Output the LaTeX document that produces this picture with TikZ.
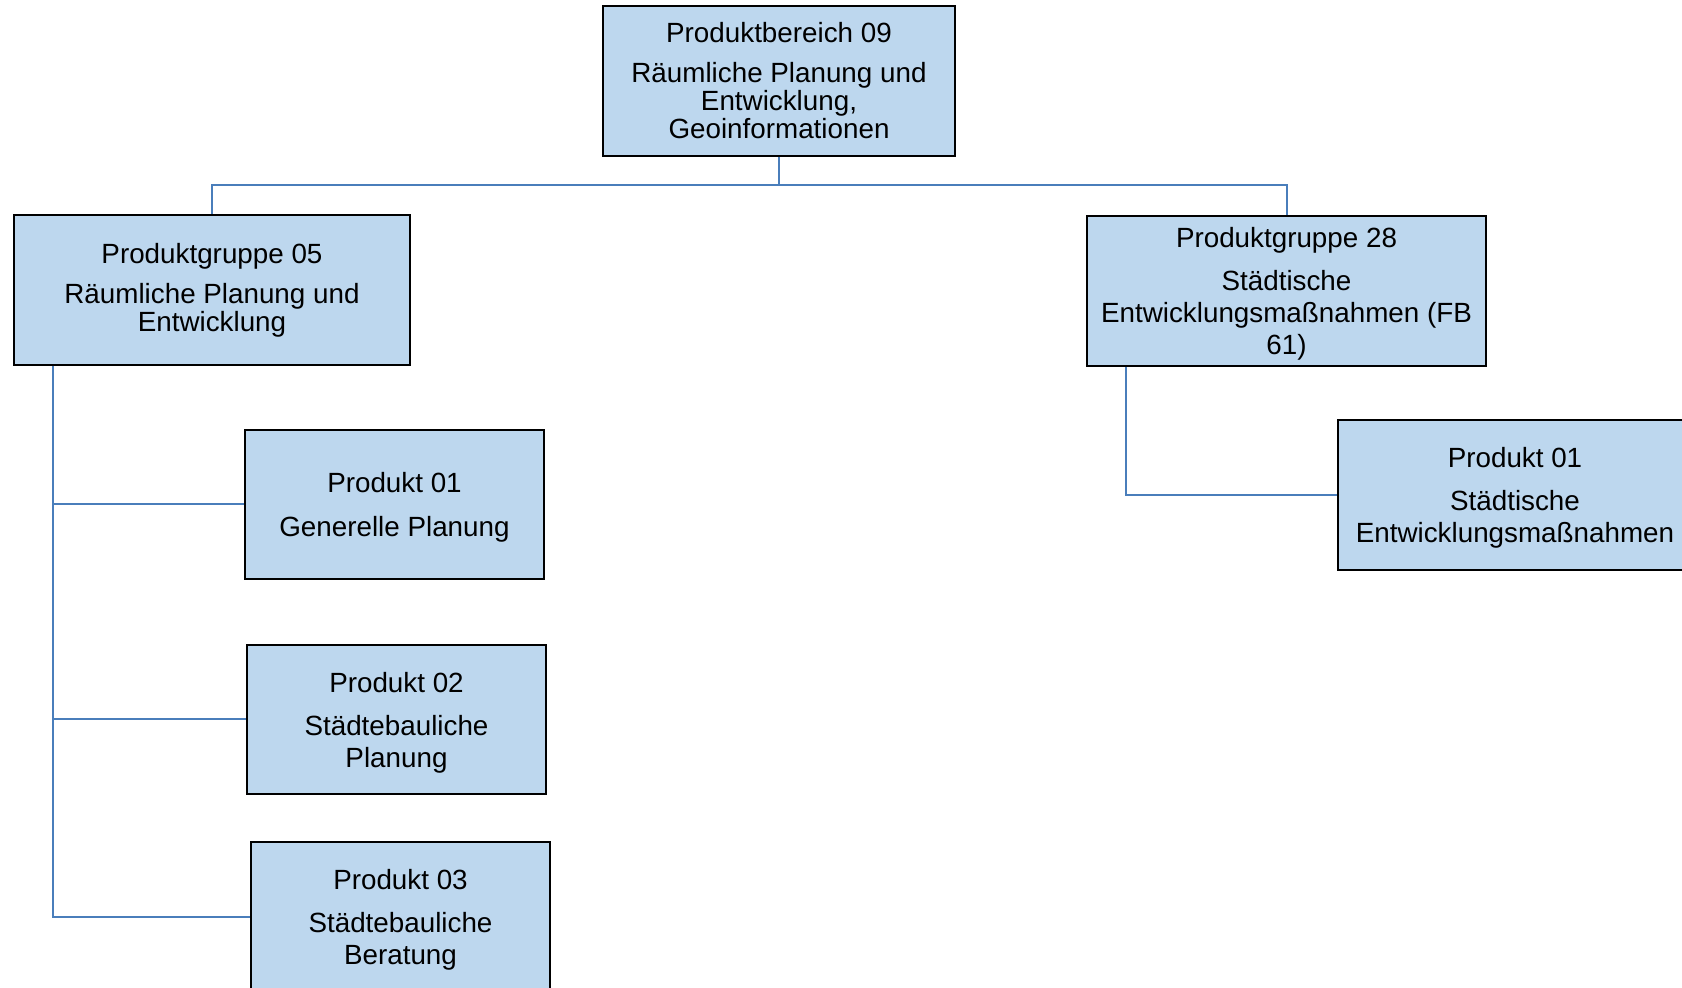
\documentclass[tikz,border=0pt]{standalone}
\usepackage{fontspec}
\setmainfont{Liberation Sans}
\usepackage{xcolor}
\usepackage{tikz}

\definecolor{boxfill}{RGB}{189,215,238}
\definecolor{linkblue}{RGB}{74,126,187}

\begin{document}
\begin{tikzpicture}
  [
    x=0.5pt, y=-0.5pt,
    unit/.style={rectangle,draw=black,fill=boxfill,line width=1pt,align=center,inner sep=2pt,
      minimum width=149.5pt,minimum height=74.5pt,text depth=0pt,font=\fontsize{13.9}{16}\selectfont},
    link/.style={draw=linkblue,line width=1pt}
  ]
  \useasboundingbox (0,0) rectangle (1682,988);
  % top level
  \node[unit,minimum width=176pt,minimum height=75pt,text depth=,font=\fontsize{13.9}{14}\selectfont] (bereich) at (779,81)
    {Produktbereich 09\\[6pt]Räumliche Planung und\\Entwicklung,\\Geoinformationen};
  % groups
  \node[unit,minimum width=198pt,minimum height=75pt,text depth=,font=\fontsize{13.9}{14}\selectfont] (gruppe 05) at (212,290)
    {Produktgruppe 05\\[6pt]Räumliche Planung und\\Entwicklung};
  \node[unit,minimum width=199.5pt,minimum height=75pt] (gruppe 28) at (1286.5,291)
    {Produktgruppe 28\\[5.5pt]Städtische\\Entwicklungsmaßnahmen (FB\\61)};
  % products
  \node[unit] (produkt 05-01) at (394.5,504.5) {Produkt 01\\[6pt]Generelle Planung};
  \node[unit] (produkt 05-02) at (396.5,719.5) {Produkt 02\\[5.5pt]Städtebauliche\\Planung};
  \node[unit] (produkt 05-03) at (400.5,916.5) {Produkt 03\\[5.5pt]Städtebauliche\\Beratung};
  \node[unit,minimum width=177pt,minimum height=75pt] (produkt 28-01) at (1515,495)
    {Produkt 01\\[5.5pt]Städtische\\Entwicklungsmaßnahmen};

  \draw[link] (bereich.south) -- ++(0,28) -| (gruppe 05.north);
  \draw[link] (bereich.south) -- ++(0,28) -| (gruppe 28.north);
  \draw[link] ([xshift=20pt]gruppe 05.south west) |- (produkt 05-01.west);
  \draw[link] ([xshift=20pt]gruppe 05.south west) |- (produkt 05-02.west);
  \draw[link] ([xshift=20pt]gruppe 05.south west) |- (produkt 05-03.west);
  \draw[link] ([xshift=20pt]gruppe 28.south west) |- (produkt 28-01.west);
\end{tikzpicture}
\end{document}
